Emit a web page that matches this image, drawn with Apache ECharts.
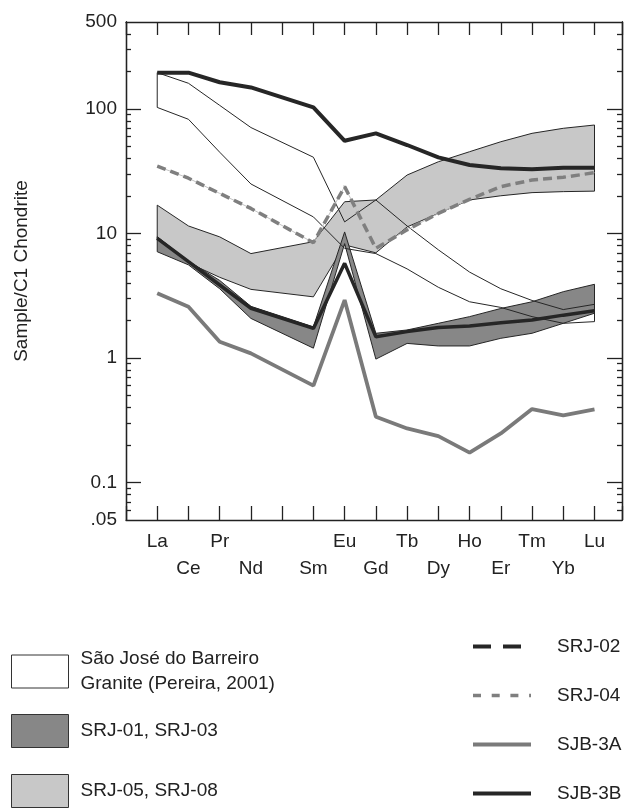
<!DOCTYPE html>
<html><head><meta charset="utf-8">
<script src="https://cdn.jsdelivr.net/npm/echarts@6/dist/echarts.min.js"></script>
<style>html,body{margin:0;padding:0;background:#fff}#c{width:630px;height:809px}</style>
</head><body><div id="c"></div>
<script>
// ---- data ----
const elements = ['La','Ce','Pr','Nd','Pm','Sm','Eu','Gd','Tb','Dy','Ho','Er','Tm','Yb','Lu'];
const yLabelValues = [0.05, 0.1, 1, 10, 100, 500];
const yMajorTicks = [0.1, 1, 10, 100];
const yMinorTicks = [0.06,0.07,0.08,0.09,0.2,0.3,0.4,0.5,0.6,0.7,0.8,0.9,2,3,4,5,6,7,8,9,20,30,40,50,60,70,80,90,200,300,400];

const N_GRANITE = 'São José do Barreiro Granite (Pereira, 2001)';
const N_DARK = 'SRJ-01, SRJ-03';
const N_LIGHT = 'SRJ-05, SRJ-08';

const graniteUpper = [196,161,107,71,null,41,12.4,18.6,11.5,7.4,4.9,3.6,2.9,2.45,2.7];
const graniteLower = [103,82.7,45,25,null,13.6,7.6,6.9,5.2,3.7,2.83,2.55,2.15,1.9,1.96];
const darkUpper = [9.43,6.0,4.2,2.6,null,1.78,10.3,1.58,1.68,1.9,2.15,2.5,2.83,3.41,3.91];
const darkLower = [7.14,5.6,3.6,2.08,null,1.2,8.3,0.98,1.31,1.25,1.25,1.44,1.58,1.9,2.29];
const lightUpper = [16.9,11.5,9.4,6.9,null,8.6,18.0,18.6,29.5,37.7,45.4,54.6,63.8,70,74.4];
const lightLower = [8.9,5.8,4.45,3.56,null,3.1,8.1,7.0,11.3,14.5,18.6,20.1,21.3,21.7,21.9];

const srj02 = [9.15,5.94,3.86,2.51,null,1.73,5.76,1.48,1.63,1.76,1.81,1.92,2.02,2.21,2.4];
const srj04 = [34.8,27.8,21.0,15.9,null,8.44,23.8,7.6,10.7,14.5,18.8,23.8,26.9,28.3,30.8];
const sjb3a = [3.31,2.58,1.35,1.09,null,0.6,2.92,0.338,0.272,0.236,0.174,0.248,0.389,0.346,0.387];
const sjb3b = [196,196,164,149,null,103,55.6,63.8,51.4,40.9,35.5,33.4,32.8,33.8,33.8];

// ---- helpers ----
const LOG = Math.log10;
const FONT = 'Liberation Sans, Arial, sans-serif';
const INK = '#222';
function pairs(arr){ const out=[]; arr.forEach((v,i)=>{ if(v!=null) out.push([i,LOG(v)]); }); return out; }
function band(name, upper, lower, fill, stroke){
  return {
    type:'custom', name, coordinateSystem:'cartesian2d', xAxisIndex:0, yAxisIndex:0,
    data:[[0, LOG(upper[0])]], encode:{x:0,y:1}, silent:true,
    itemStyle:{color: fill},
    renderItem:function(params, api){
      const pts=[];
      upper.forEach((v,i)=>{ if(v!=null) pts.push(api.coord([i,LOG(v)])); });
      for(let i=lower.length-1;i>=0;i--){ if(lower[i]!=null) pts.push(api.coord([i,LOG(lower[i])])); }
      return {type:'polygon', shape:{points:pts}, style:{fill: fill, stroke: stroke, lineWidth:1}};
    }
  };
}
function line(name, arr, color, width, type){
  return {type:'line', name, data:pairs(arr), xAxisIndex:0, yAxisIndex:0, symbol:'none', silent:true,
    lineStyle:{color, width, type: type||'solid'}, itemStyle:{color}};
}

const axisLineStyle = {color: INK, width: 1.3};
function yAx(pos, major, withLabels){
  return {
    type:'value', min:LOG(0.05), max:LOG(500), position:pos,
    axisLine:{show:true, onZero:false, lineStyle:axisLineStyle},
    axisTick:{show:true, inside:true, length: major?15:5, lineStyle:axisLineStyle,
      customValues: (major? yMajorTicks : yMinorTicks).map(LOG)},
    axisLabel: withLabels ? {show:true, customValues: yLabelValues.map(LOG), margin:9, fontSize:19, color:INK, fontFamily:FONT,
      formatter:function(v){ const r=Math.pow(10,v); if(r<0.07) return '.05'; if(r<0.5) return '0.1'; return String(Math.round(r)); }} : {show:false},
    splitLine:{show:false},
    name: withLabels ? 'Sample/C1 Chondrite' : '',
    nameLocation:'middle', nameGap:95,
    nameTextStyle:{fontSize:19, color:INK, fontFamily:FONT}
  };
}
function xAx(pos, withLabels){
  return {
    type:'value', min:-1, max:14.88, interval:1, position:pos,
    axisLine:{show:true, onZero:false, lineStyle:axisLineStyle},
    axisTick:{show:true, inside:true, length: pos==='bottom'?14:13, lineStyle:axisLineStyle},
    axisLabel: withLabels ? {show:true, margin:8, fontSize:19, lineHeight:27, color:INK, fontFamily:FONT,
      formatter:function(v){
        const i=Math.round(v); if(Math.abs(v-i)>1e-6 || i<0 || i>14) return '';
        const n = elements[i]; if(n==='Pm') return '';
        return (i%2===1) ? '\n'+n : n;
      }} : {show:false},
    splitLine:{show:false}
  };
}

const option = {
  animation:false,
  backgroundColor:'#fff',
  textStyle:{fontFamily:FONT},
  grid:{left:126, right:8, top:22, bottom:289, containLabel:false},
  xAxis:[xAx('bottom', true), xAx('top', false)],
  yAxis:[yAx('left', true, true), yAx('left', false, false), yAx('right', true, false), yAx('right', false, false)],
  legend:[
    {data:[{name:N_GRANITE}], left:11, top:646.5, orient:'vertical', padding:0, selectedMode:false,
     itemWidth:57, itemHeight:33, icon:'rect', itemStyle:{borderColor:'#333', borderWidth:1},
     formatter:function(){ return 'São José do Barreiro\nGranite (Pereira, 2001)'; },
     textStyle:{fontSize:19, lineHeight:25, color:INK, fontFamily:FONT, padding:[0,0,0,7]}},
    {data:[{name:N_DARK}], left:11, top:714, orient:'vertical', padding:0, selectedMode:false,
     itemWidth:57, itemHeight:33, icon:'rect', itemStyle:{borderColor:'#333', borderWidth:1},
     textStyle:{fontSize:19, color:INK, fontFamily:FONT, padding:[0,0,0,7]}},
    {data:[{name:N_LIGHT}], left:11, top:774, orient:'vertical', padding:0, selectedMode:false,
     itemWidth:57, itemHeight:33, icon:'rect', itemStyle:{borderColor:'#333', borderWidth:1},
     textStyle:{fontSize:19, color:INK, fontFamily:FONT, padding:[0,0,0,7]}},
    {data:[
       {name:'SRJ-02', lineStyle:{width:4, type:[18,12,18,80]}},
       {name:'SRJ-04', lineStyle:{width:3.5, type:[8,10.7]}},
       {name:'SJB-3A', lineStyle:{width:4}},
       {name:'SJB-3B', lineStyle:{width:4}}],
     left:471, top:637, orient:'vertical', padding:0, selectedMode:false,
     itemWidth:58, itemHeight:20, itemGap:30, itemStyle:{opacity:0},
     textStyle:{fontSize:19, color:INK, fontFamily:FONT, padding:[0,0,0,21]}}
  ],
  series:[
    band(N_LIGHT, lightUpper, lightLower, '#c8c8c8', '#262626'),
    band(N_DARK, darkUpper, darkLower, '#878787', '#262626'),
    Object.assign(band(N_GRANITE, graniteUpper, graniteLower, 'none', '#262626'), {itemStyle:{color:'#ffffff'}}),
    line('SRJ-04 base', srj04, '#c4c4c4', 1),
    line('SRJ-04', srj04, '#7f7f7f', 3.5, [9,5]),
    line('SJB-3A', sjb3a, '#7a7a7a', 3.8),
    line('SRJ-02', srj02, '#262626', 3.5),
    line('SJB-3B', sjb3b, '#262626', 4)
  ]
};
const chart = echarts.init(document.getElementById('c'), null, {renderer:'canvas'});
chart.setOption(option);
</script>
</body></html>
